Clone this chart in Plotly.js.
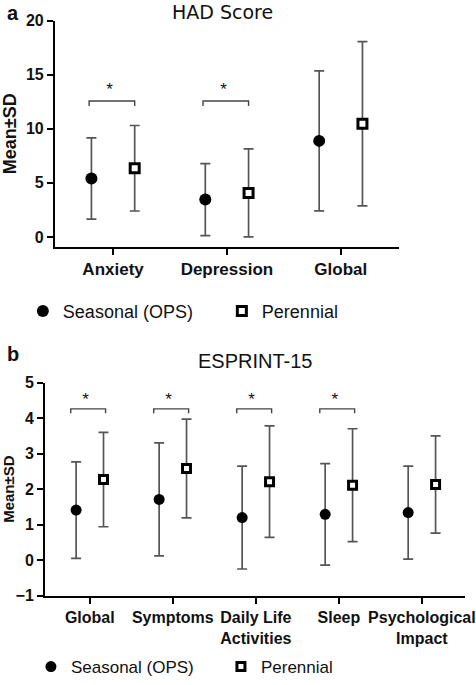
<!DOCTYPE html>
<html>
<head>
<meta charset="utf-8">
<script src="https://cdn.plot.ly/plotly-3.0.1.min.js"></script>
<style>html,body{margin:0;padding:0;background:#fff;}#chart{width:476px;height:685px;}</style>
</head>
<body>
<div id="chart"></div>
<script>
// ---- Panel a: HAD Score ----
const hadCategories = ['Anxiety', 'Depression', 'Global'];
const hadSeasonalMean = [5.4, 3.45, 8.88];
const hadSeasonalSD = [3.75, 3.33, 6.47];
const hadPerennialMean = [6.35, 4.07, 10.46];
const hadPerennialSD = [3.95, 4.07, 7.59];
const hadSignificant = [true, true, false];
const hadYTicks = [0, 5, 10, 15, 20];

// ---- Panel b: ESPRINT-15 ----
const espCategories = ['Global', 'Symptoms', 'Daily Life<br>Activities', 'Sleep', 'Psychological<br>Impact'];
const espSeasonalMean = [1.41, 1.71, 1.20, 1.29, 1.34];
const espSeasonalSD = [1.36, 1.59, 1.45, 1.43, 1.31];
const espPerennialMean = [2.27, 2.58, 2.21, 2.11, 2.13];
const espPerennialSD = [1.33, 1.39, 1.57, 1.59, 1.37];
const espSignificant = [true, true, true, true, false];
const espYTicks = [-1, 0, 1, 2, 3, 4, 5];

const seriesNames = ['Seasonal (OPS)', 'Perennial'];

const FONT = 'Liberation Sans, Arial, sans-serif';
const ERR_COLOR = '#555555';

function panelTraces(cats, sMean, sSD, pMean, pSD, sig, xa, ya, legendId, offset, bracket, msize) {
  const idx = cats.map((_, i) => i);
  const traces = [];
  traces.push({
    type: 'scatter', mode: 'markers', name: seriesNames[0], legend: legendId,
    x: idx.map(i => i - offset), y: sMean, xaxis: xa, yaxis: ya,
    error_y: {type: 'data', array: sSD, visible: true, color: ERR_COLOR, thickness: 1.7, width: 5},
    marker: {symbol: 'circle', size: msize, color: '#000'}
  });
  traces.push({
    type: 'scatter', mode: 'markers', name: seriesNames[1], legend: legendId,
    x: idx.map(i => i + offset), y: pMean, xaxis: xa, yaxis: ya,
    error_y: {type: 'data', array: pSD, visible: true, color: ERR_COLOR, thickness: 1.7, width: 5},
    marker: {symbol: 'square', size: msize - 3, color: '#fff', line: {color: '#000', width: 3}}
  });
  // significance brackets
  idx.filter(i => sig[i]).forEach(i => {
    const x0 = i + bracket.left, x1 = i + bracket.right;
    traces.push({
      type: 'scatter', mode: 'lines', xaxis: xa, yaxis: ya, showlegend: false, hoverinfo: 'skip',
      x: [x0, x0, x1, x1], y: [bracket.tip, bracket.level, bracket.level, bracket.tip],
      line: {color: '#444', width: 1.4}
    });
    traces.push({
      type: 'scatter', mode: 'text', xaxis: xa, yaxis: ya, showlegend: false, hoverinfo: 'skip',
      x: [i + bracket.star], y: [bracket.starY], text: ['*'],
      textfont: {family: FONT, size: 17, color: '#111'}, textposition: 'middle center'
    });
  });
  return traces;
}

const data = [].concat(
  panelTraces(hadCategories, hadSeasonalMean, hadSeasonalSD, hadPerennialMean, hadPerennialSD,
    hadSignificant, 'x', 'y', 'legend', 0.19,
    {left: -0.21, right: 0.19, level: 12.57, tip: 12.1, star: -0.03, starY: 13.5}, 12),
  panelTraces(espCategories, espSeasonalMean, espSeasonalSD, espPerennialMean, espPerennialSD,
    espSignificant, 'x2', 'y2', 'legend2', 0.165,
    {left: -0.23, right: 0.19, level: 4.26, tip: 4.14, star: -0.05, starY: 4.5}, 11)
);

const axisCommon = {
  showline: true, linecolor: '#000', linewidth: 2, ticks: 'outside', ticklen: 6,
  tickwidth: 2, tickcolor: '#000', showgrid: false, zeroline: false, fixedrange: true,
  tickfont: {family: FONT, size: 16, color: '#111', weight: 'bold'}
};

const layout = {
  width: 476, height: 685,
  margin: {l: 0, r: 0, t: 0, b: 0},
  paper_bgcolor: '#fff', plot_bgcolor: '#fff',
  font: {family: FONT, color: '#111'},
  xaxis: Object.assign({}, axisCommon, {
    domain: [0.1155, 0.838], range: [-0.51, 2.51], anchor: 'y',
    tickvals: hadCategories.map((_, i) => i), ticktext: hadCategories,
    tickfont: {family: FONT, size: 17, color: '#111', weight: 'bold'}
  }),
  yaxis: Object.assign({}, axisCommon, {
    domain: [0.638, 0.9698], range: [-0.92, 20], anchor: 'x',
    tickvals: hadYTicks,
    title: {text: 'Mean±SD', font: {family: FONT, size: 18, color: '#111', weight: 'bold'}, standoff: 6}
  }),
  xaxis2: Object.assign({}, axisCommon, {
    domain: [0.0945, 0.977], range: [-0.54, 4.52], anchor: 'y2',
    tickvals: espCategories.map((_, i) => i), ticktext: espCategories
  }),
  yaxis2: Object.assign({}, axisCommon, {
    domain: [0.1266, 0.439], range: [-1, 5], anchor: 'x2',
    tickvals: espYTicks,
    title: {text: 'Mean±SD', font: {family: FONT, size: 15, color: '#111', weight: 'bold'}, standoff: 8}
  }),
  legend: {
    orientation: 'h', x: 0.048, xanchor: 'left', y: 1 - 312.7 / 685, yanchor: 'middle',
    font: {family: FONT, size: 18, color: '#111'}, entrywidthmode: 'pixels', entrywidth: 154,
    bgcolor: 'rgba(0,0,0,0)'
  },
  legend2: {
    orientation: 'h', x: 0.065, xanchor: 'left', y: 1 - 670 / 685, yanchor: 'middle',
    font: {family: FONT, size: 17, color: '#111'}, entrywidthmode: 'pixels', entrywidth: 145,
    bgcolor: 'rgba(0,0,0,0)'
  },
  annotations: [
    {text: 'HAD Score', xref: 'paper', yref: 'paper', x: 222 / 476, y: 1,
     xanchor: 'center', yanchor: 'top', showarrow: false, borderpad: 0,
     font: {family: 'DejaVu Sans, sans-serif', size: 19, color: '#111'}},
    {text: 'ESPRINT-15', xref: 'paper', yref: 'paper', x: 255 / 476, y: 1 - 362.7 / 685,
     xanchor: 'center', yanchor: 'middle', showarrow: false,
     font: {family: FONT, size: 20, color: '#111'}},
    {text: 'a', xref: 'paper', yref: 'paper', x: 5 / 476, y: 1,
     xanchor: 'left', yanchor: 'top', showarrow: false,
     font: {family: FONT, size: 20, color: '#111', weight: 'bold'}},
    {text: 'b', xref: 'paper', yref: 'paper', x: 5 / 476, y: 1 - 356 / 685,
     xanchor: 'left', yanchor: 'middle', showarrow: false,
     font: {family: FONT, size: 20, color: '#111', weight: 'bold'}}
  ]
};

Plotly.newPlot('chart', data, layout, {displayModeBar: false, staticPlot: true});
</script>
</body>
</html>
